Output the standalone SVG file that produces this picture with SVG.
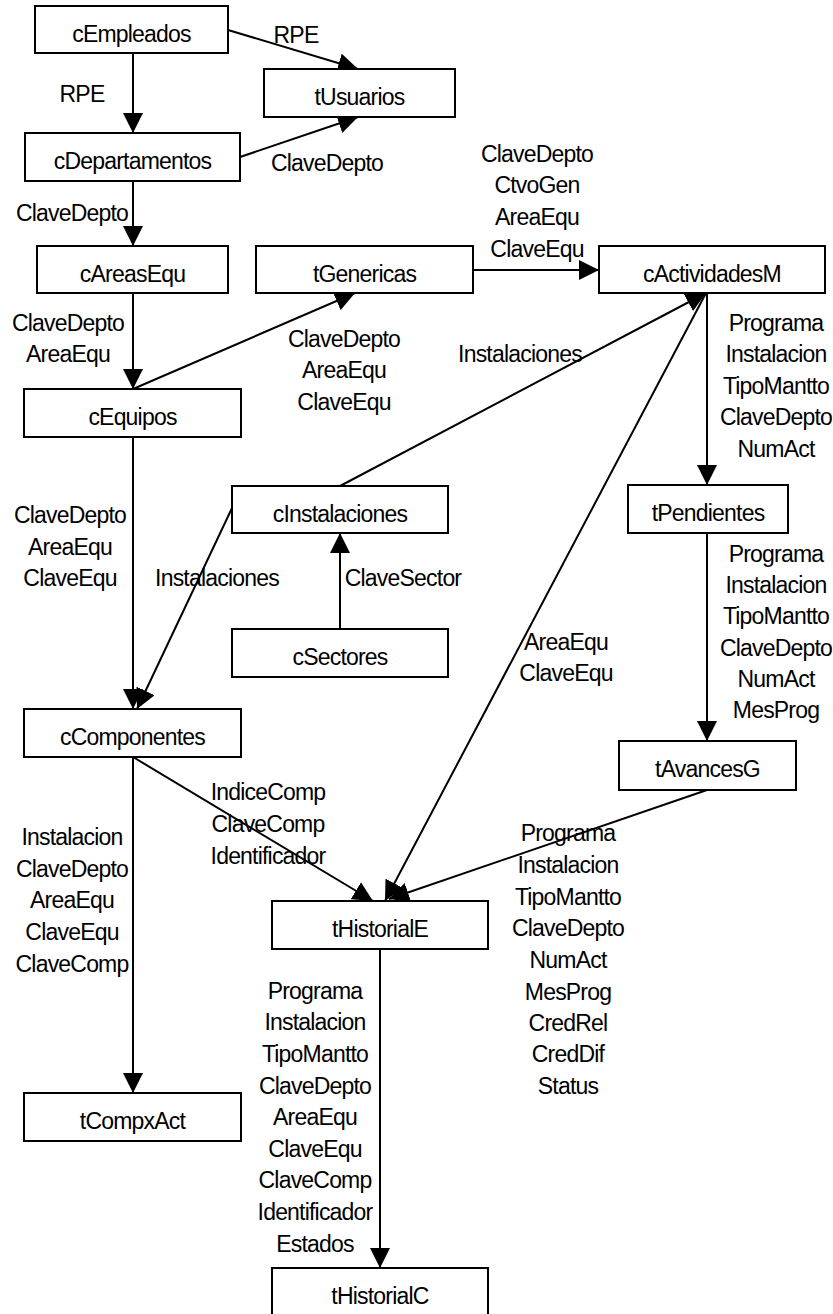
<svg xmlns="http://www.w3.org/2000/svg" width="833" height="1314" viewBox="0 0 833 1314">
  <style>
    .box rect { fill: #ffffff; stroke: #000000; stroke-width: 2; }
    .box text, .lbl { font-family: "Liberation Sans", Arial, sans-serif; font-size: 23px; letter-spacing: -0.8px; fill: #000000; text-anchor: middle; }
    .edge { stroke: #000000; stroke-width: 2; fill: none; marker-end: url(#ah); }
  </style>
  <defs>
    <marker id="ah" viewBox="0 0 20 20" refX="20" refY="10" markerWidth="20" markerHeight="20" markerUnits="userSpaceOnUse" orient="auto">
      <path d="M0,0 L20,10 L0,20 z" fill="#000000"/>
    </marker>
  </defs>
  <rect width="833" height="1314" fill="#ffffff"/>

  <!-- connectors -->
  <g id="connectors">
    <line class="edge" x1="228" y1="30" x2="358" y2="69"/>
    <line class="edge" x1="133" y1="53" x2="133" y2="133"/>
    <line class="edge" x1="240" y1="157" x2="358" y2="117"/>
    <line class="edge" x1="133" y1="181" x2="133" y2="246"/>
    <line class="edge" x1="133" y1="293" x2="133" y2="389"/>
    <line class="edge" x1="133" y1="389" x2="355" y2="293"/>
    <line class="edge" x1="473" y1="270" x2="599" y2="270"/>
    <line class="edge" x1="340" y1="486" x2="706" y2="293"/>
    <line class="edge" x1="706" y1="293" x2="385" y2="901"/>
    <line class="edge" x1="707" y1="293" x2="707" y2="485"/>
    <line class="edge" x1="707" y1="533" x2="707" y2="741"/>
    <line class="edge" x1="707" y1="790" x2="389" y2="899"/>
    <line class="edge" x1="232" y1="508" x2="137" y2="709"/>
    <line class="edge" x1="340" y1="629" x2="340" y2="533"/>
    <line class="edge" x1="133" y1="437" x2="133" y2="709"/>
    <line class="edge" x1="133" y1="757" x2="373" y2="901"/>
    <line class="edge" x1="133" y1="757" x2="133" y2="1093"/>
    <line class="edge" x1="380" y1="949" x2="380" y2="1268"/>
  </g>

  <!-- connector labels -->
  <g id="labels">
    <text class="lbl" x="296" y="43">RPE</text>
    <text class="lbl" x="82" y="102">RPE</text>
    <text class="lbl" x="327" y="171">ClaveDepto</text>
    <text class="lbl" x="72" y="221">ClaveDepto</text>
    <text class="lbl" x="537" y="162">ClaveDepto</text>
    <text class="lbl" x="537" y="193">CtvoGen</text>
    <text class="lbl" x="537" y="225">AreaEqu</text>
    <text class="lbl" x="537" y="257">ClaveEqu</text>
    <text class="lbl" x="68" y="331">ClaveDepto</text>
    <text class="lbl" x="68" y="362">AreaEqu</text>
    <text class="lbl" x="344" y="347">ClaveDepto</text>
    <text class="lbl" x="344" y="378">AreaEqu</text>
    <text class="lbl" x="344" y="410">ClaveEqu</text>
    <text class="lbl" x="520" y="362">Instalaciones</text>
    <text class="lbl" x="776" y="331">Programa</text>
    <text class="lbl" x="776" y="362">Instalacion</text>
    <text class="lbl" x="776" y="394">TipoMantto</text>
    <text class="lbl" x="776" y="425">ClaveDepto</text>
    <text class="lbl" x="776" y="457">NumAct</text>
    <text class="lbl" x="70" y="523">ClaveDepto</text>
    <text class="lbl" x="70" y="555">AreaEqu</text>
    <text class="lbl" x="70" y="586">ClaveEqu</text>
    <text class="lbl" x="217" y="586">Instalaciones</text>
    <text class="lbl" x="403" y="586">ClaveSector</text>
    <text class="lbl" x="776" y="562">Programa</text>
    <text class="lbl" x="776" y="593">Instalacion</text>
    <text class="lbl" x="776" y="624">TipoMantto</text>
    <text class="lbl" x="776" y="656">ClaveDepto</text>
    <text class="lbl" x="776" y="687">NumAct</text>
    <text class="lbl" x="776" y="718">MesProg</text>
    <text class="lbl" x="566" y="650">AreaEqu</text>
    <text class="lbl" x="566" y="681">ClaveEqu</text>
    <text class="lbl" x="268" y="800">IndiceComp</text>
    <text class="lbl" x="268" y="832">ClaveComp</text>
    <text class="lbl" x="268" y="864">Identificador</text>
    <text class="lbl" x="72" y="845">Instalacion</text>
    <text class="lbl" x="72" y="877">ClaveDepto</text>
    <text class="lbl" x="72" y="908">AreaEqu</text>
    <text class="lbl" x="72" y="940">ClaveEqu</text>
    <text class="lbl" x="72" y="972">ClaveComp</text>
    <text class="lbl" x="568" y="841">Programa</text>
    <text class="lbl" x="568" y="873">Instalacion</text>
    <text class="lbl" x="568" y="905">TipoMantto</text>
    <text class="lbl" x="568" y="936">ClaveDepto</text>
    <text class="lbl" x="568" y="968">NumAct</text>
    <text class="lbl" x="568" y="1000">MesProg</text>
    <text class="lbl" x="568" y="1031">CredRel</text>
    <text class="lbl" x="568" y="1062">CredDif</text>
    <text class="lbl" x="568" y="1094">Status</text>
    <text class="lbl" x="315" y="999">Programa</text>
    <text class="lbl" x="315" y="1030">Instalacion</text>
    <text class="lbl" x="315" y="1062">TipoMantto</text>
    <text class="lbl" x="315" y="1094">ClaveDepto</text>
    <text class="lbl" x="315" y="1125">AreaEqu</text>
    <text class="lbl" x="315" y="1157">ClaveEqu</text>
    <text class="lbl" x="315" y="1188">ClaveComp</text>
    <text class="lbl" x="315" y="1220">Identificador</text>
    <text class="lbl" x="315" y="1252">Estados</text>
  </g>

  <!-- nodes -->
  <g id="cEmpleados" class="box"><rect x="35" y="6" width="193" height="47"/><text x="131.5" y="42">cEmpleados</text></g>
  <g id="tUsuarios" class="box"><rect x="264" y="69" width="191" height="48"/><text x="359.5" y="105">tUsuarios</text></g>
  <g id="cDepartamentos" class="box"><rect x="25" y="133" width="215" height="48"/><text x="132.5" y="169">cDepartamentos</text></g>
  <g id="cAreasEqu" class="box"><rect x="37" y="246" width="191" height="47"/><text x="132.5" y="282">cAreasEqu</text></g>
  <g id="tGenericas" class="box"><rect x="256" y="246" width="217" height="47"/><text x="364.5" y="282">tGenericas</text></g>
  <g id="cActividadesM" class="box"><rect x="599" y="246" width="226" height="47"/><text x="712" y="282">cActividadesM</text></g>
  <g id="cEquipos" class="box"><rect x="24" y="389" width="217" height="48"/><text x="132.5" y="425">cEquipos</text></g>
  <g id="cInstalaciones" class="box"><rect x="232" y="486" width="216" height="47"/><text x="340" y="522">cInstalaciones</text></g>
  <g id="tPendientes" class="box"><rect x="628" y="485" width="160" height="48"/><text x="708" y="521">tPendientes</text></g>
  <g id="cSectores" class="box"><rect x="232" y="629" width="216" height="48"/><text x="340" y="665">cSectores</text></g>
  <g id="cComponentes" class="box"><rect x="24" y="709" width="217" height="48"/><text x="132.5" y="745">cComponentes</text></g>
  <g id="tAvancesG" class="box"><rect x="619" y="741" width="177" height="49"/><text x="707.5" y="777">tAvancesG</text></g>
  <g id="tHistorialE" class="box"><rect x="272" y="901" width="216" height="48"/><text x="380" y="937">tHistorialE</text></g>
  <g id="tCompxAct" class="box"><rect x="24" y="1093" width="217" height="48"/><text x="132.5" y="1129">tCompxAct</text></g>
  <g id="tHistorialC" class="box"><rect x="272" y="1268" width="216" height="50"/><text x="380" y="1304">tHistorialC</text></g>
</svg>
